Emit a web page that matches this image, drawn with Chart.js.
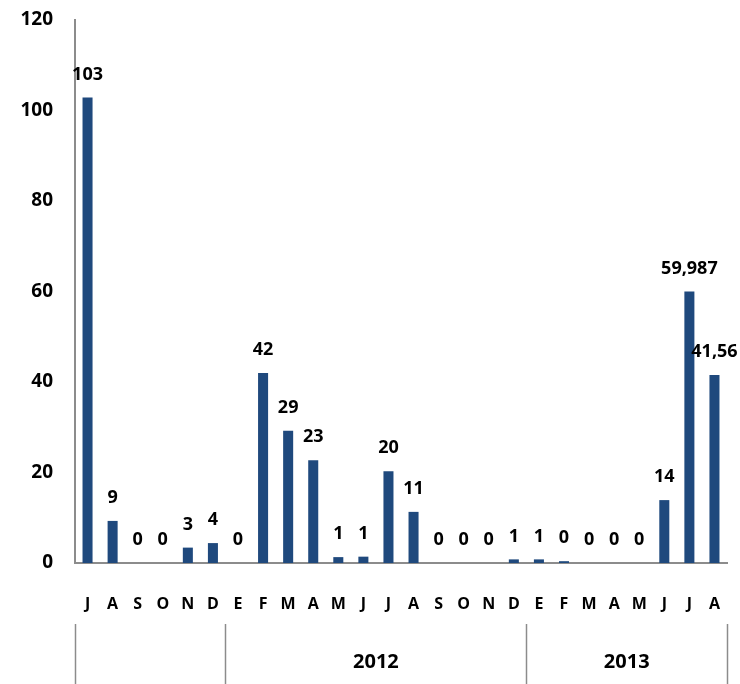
<!DOCTYPE html>
<html>
<head>
<meta charset="utf-8">
<script src="https://cdn.jsdelivr.net/npm/chart.js@4.4.0/dist/chart.umd.min.js"></script>
<style>
  html, body { margin: 0; padding: 0; background: #fff; }
  #wrap { width: 740px; height: 684px; position: relative; }
</style>
</head>
<body>
<div id="wrap"><canvas id="chart"></canvas></div>
<script>
// months, J 2011 to A 2013
const months = ["J","A","S","O","N","D","E","F","M","A","M","J","J","A","S","O","N","D","E","F","M","A","M","J","J","A"];
const values = [102.9, 9.3, 0, 0, 3.4, 4.4, 0, 42, 29.2, 22.7, 1.3, 1.4, 20.3, 11.3, 0, 0, 0, 0.8, 0.8, 0.4, 0, 0, 0, 13.9, 59.987, 41.56];
const valueLabels = ["103","9","0","0","3","4","0","42","29","23","1","1","20","11","0","0","0","1","1","0","0","0","0","14","59,987","41,56"];
// year groups: label and number of months
const years = ["", "2012", "2013"];
const yearSpans = [6, 12, 8];
const yTicks = [0, 20, 40, 60, 80, 100, 120];

const FONT = "'Open Sans', sans-serif";

// value labels above bars
const barLabels = {
  id: 'barLabels',
  afterDatasetsDraw(chart) {
    const ctx = chart.ctx;
    const meta = chart.getDatasetMeta(0);
    ctx.save();
    ctx.font = "bold 18px " + FONT;
    ctx.fillStyle = "#000";
    ctx.textAlign = "center";
    ctx.textBaseline = "middle";
    meta.data.forEach((bar, i) => {
      ctx.fillText(valueLabels[i], bar.x, bar.y - 23);
    });
    ctx.restore();
  }
};

// year row under month labels
const yearRow = {
  id: 'yearRow',
  afterDraw(chart) {
    const ctx = chart.ctx;
    const x = chart.scales.x;
    const half = (x.getPixelForValue(1) - x.getPixelForValue(0)) / 2;
    ctx.save();
    ctx.strokeStyle = "#8c8c8c";
    ctx.lineWidth = 1.5;
    ctx.font = "bold 20px " + FONT;
    ctx.fillStyle = "#000";
    ctx.textAlign = "center";
    ctx.textBaseline = "middle";
    let start = 0;
    const edges = [x.getPixelForValue(0) - half];
    yearSpans.forEach((n, i) => {
      const left = x.getPixelForValue(start) - half;
      const right = x.getPixelForValue(start + n - 1) + half;
      edges.push(right);
      if (years[i]) ctx.fillText(years[i], (left + right) / 2, 662);
      start += n;
    });
    edges.forEach(px => {
      ctx.beginPath();
      ctx.moveTo(Math.round(px) + 0.5, 624);
      ctx.lineTo(Math.round(px) + 0.5, 684);
      ctx.stroke();
    });
    ctx.restore();
  }
};

new Chart(document.getElementById('chart'), {
  type: 'bar',
  data: {
    labels: months,
    datasets: [{
      data: values,
      backgroundColor: '#1f497d',
      barPercentage: 0.8,
      categoryPercentage: 0.5
    }]
  },
  options: {
    responsive: true,
    maintainAspectRatio: false,
    animation: false,
    layout: { padding: { top: 20, right: 13, left: 0, bottom: 0 } },
    plugins: {
      legend: { display: false },
      tooltip: { enabled: false }
    },
    scales: {
      x: {
        grid: { display: false },
        border: { display: true, color: '#8c8c8c', width: 2 },
        ticks: {
          color: '#000',
          font: { family: FONT, size: 16, weight: 'bold' },
          padding: 24,
          maxRotation: 0,
          autoSkip: false
        },
        afterFit(scale) {
          scale.height = 121;
          scale.paddingLeft = 0;
          scale.paddingRight = 0;
        }
      },
      y: {
        min: 0,
        max: 120,
        afterBuildTicks(scale) { scale.ticks = yTicks.map(v => ({ value: v })); },
        grid: { display: false },
        border: { display: true, color: '#8c8c8c', width: 2 },
        ticks: {
          color: '#000',
          font: { family: FONT, size: 19, weight: 'bold' },
          padding: 14
        },
        afterFit(scale) {
          scale.width = 75;
          scale.paddingTop = 0;
          scale.paddingBottom = 0;
        }
      }
    }
  },
  plugins: [barLabels, yearRow]
});
</script>
</body>
</html>
